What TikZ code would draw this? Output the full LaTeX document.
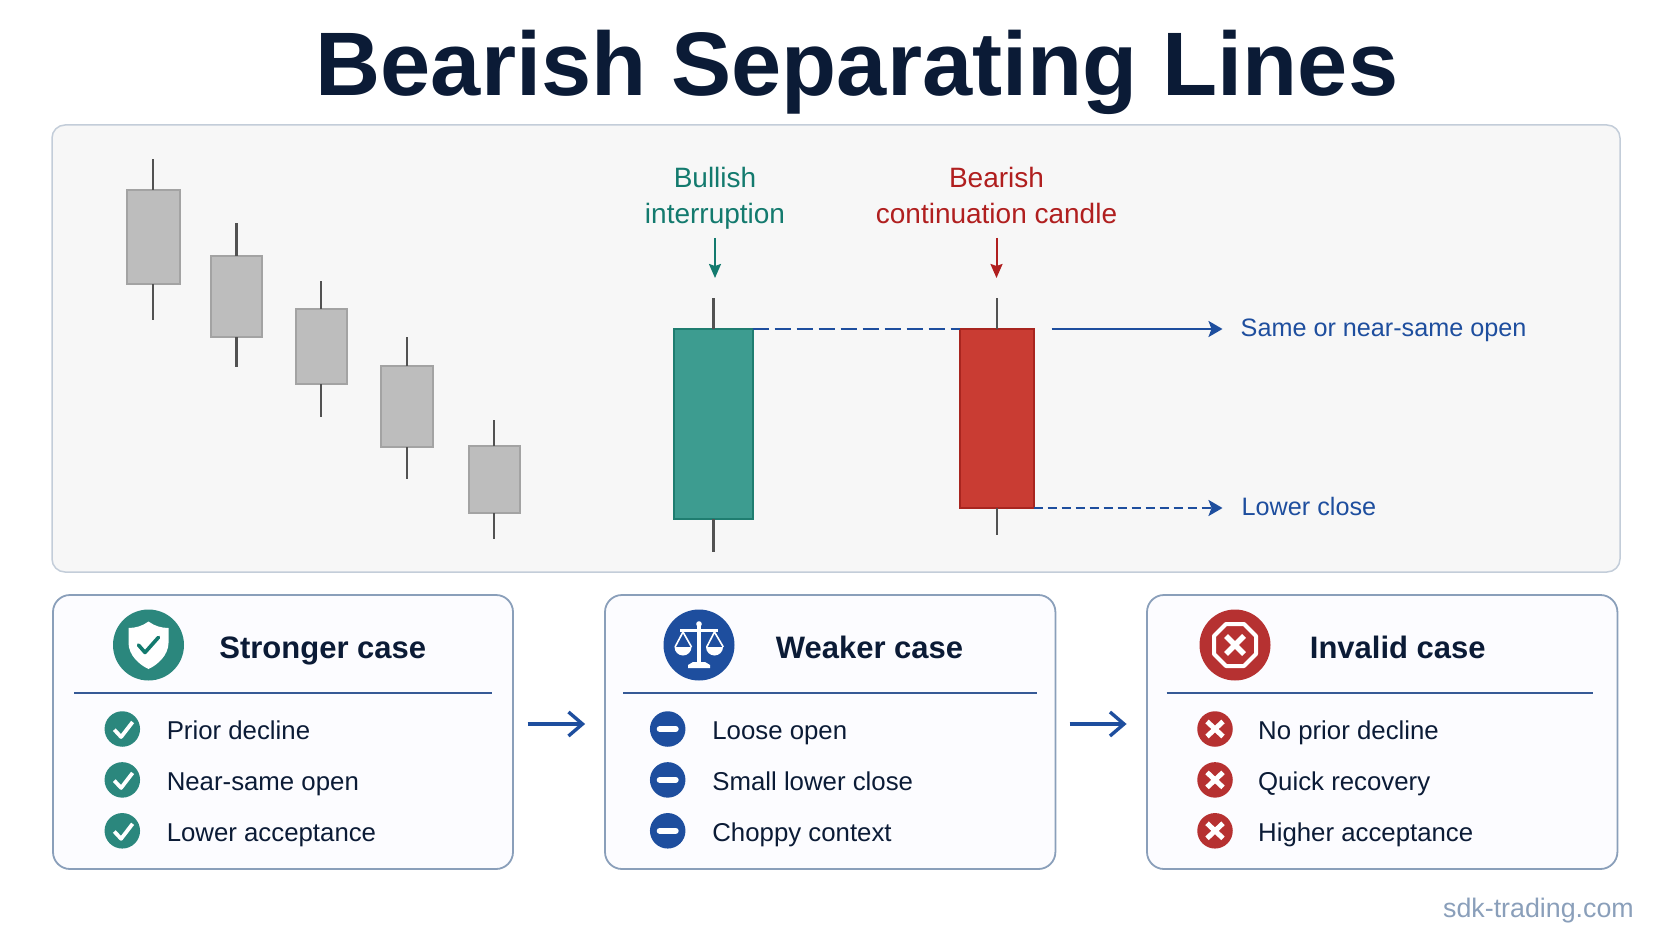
\documentclass[tikz,border=0pt]{standalone}
\usepackage{fontspec}
\setmainfont{Liberation Sans}
\usepackage{xcolor}
\usepackage{tikz}
\usetikzlibrary{shapes,arrows,arrows.meta,positioning,calc}
\definecolor{inkdark}{HTML}{0B1B36}
\definecolor{linkblue}{HTML}{1E4E9E}
\definecolor{bullgreen}{HTML}{137A6E}
\definecolor{bearred}{HTML}{B01F1F}
\definecolor{panelline}{HTML}{C3CDD9}
\definecolor{cardline}{HTML}{8A9FBA}
\definecolor{greenedge}{HTML}{1F7D70}
\definecolor{greenfill}{HTML}{3D9C90}
\definecolor{rededge}{HTML}{A8251F}
\definecolor{redfill}{HTML}{C93C33}
\tikzstyle{panel} = [draw=panelline, line width=1.5pt, fill=black!3, rounded corners=13pt, inner sep=0pt]
\tikzstyle{card} = [draw=cardline, line width=1.8pt, fill=blue!1, rounded corners=17pt, inner sep=0pt,
    minimum height=274pt]
\tikzstyle{rule} = [draw=linkblue!75!gray, line width=1.8pt]
\tikzstyle{graybody} = [draw=black!36, line width=2pt, fill=black!26, inner sep=0pt, outer sep=0pt]
\tikzstyle{greenbody} = [draw=greenedge, line width=2pt, fill=greenfill, inner sep=0pt, outer sep=0pt]
\tikzstyle{redbody} = [draw=rededge, line width=2pt, fill=redfill, inner sep=0pt, outer sep=0pt]
\tikzstyle{wick} = [draw=black!68, line width=2.4pt]
\tikzstyle{uplabel} = [align=center, inner sep=0pt, font=\fontsize{28}{36}\selectfont]
\tikzstyle{sidelabel} = [text=linkblue, anchor=west, inner sep=0pt, text height=19pt, text depth=5pt,
    font=\fontsize{25.2}{30}\selectfont]
\tikzstyle{cardtitle} = [text=inkdark, inner sep=0pt, text height=30pt, text depth=4pt,
    font=\fontsize{31}{36}\bfseries\selectfont]
\tikzstyle{itemtext} = [text=inkdark, inner sep=0pt, text height=25pt, text depth=4pt,
    font=\fontsize{25.8}{32}\selectfont]
\tikzstyle{connector} = [-{Straight Barb[length=14pt,width=24pt,line width=3.4pt]}, draw=linkblue, line width=3.4pt]
\tikzstyle{note} = [-{Stealth[length=14pt,width=16pt,inset=3pt]}, draw=linkblue, line width=2.4pt]
\tikzstyle{pointer} = [-{Stealth[length=14pt,width=12pt,inset=2pt]}, line width=2pt, shorten <=8pt]
\tikzstyle{bigicon} = [circle, inner sep=0pt, minimum size=71pt]
\tikzstyle{smallicon} = [circle, inner sep=0pt, minimum size=35.5pt]
\tikzstyle{shieldicon} = [bigicon, fill=bullgreen!90!white, path picture={
    \begin{scope}[shift={(path picture bounding box.center)}]
      \fill[white] (0,-23.5) .. controls (-6,-19) and (-13,-17) .. (-20,-17) -- (-20,-2)
        .. controls (-20,10) and (-9,20) .. (0,24) .. controls (9,20) and (20,10) .. (20,-2)
        -- (20,-17) .. controls (13,-17) and (6,-19) .. (0,-23.5) -- cycle;
      \draw[bullgreen, line width=3.6pt, line cap=round, line join=round] (-10,0) -- (-3.5,7.5) -- (10,-7.7);
    \end{scope}}]
\tikzstyle{scaleicon} = [bigicon, fill=linkblue, path picture={
    \begin{scope}[shift={(path picture bounding box.center)}]
      \fill[white] (-1.8,-21) rectangle (1.8,18);
      \fill[white] (0,-21) circle (2.8);
      \fill[white] (-19,-16.5) rectangle (19,-13.5);
      \fill[white] (-6,17) -- (6,17) -- (11,20) -- (11,23) -- (-11,23) -- (-11,20) -- cycle;
      \draw[white, line width=1.6pt] (-24,2) -- (-16,-13) -- (-7.5,2);
      \draw[white, line width=1.6pt] (24.3,2) -- (15.5,-13) -- (7.7,2);
      \fill[white] (-24.5,2) arc[start angle=180, end angle=360, x radius=8.5, y radius=-8.5] -- cycle;
      \fill[white] (7,2) arc[start angle=180, end angle=360, x radius=8.5, y radius=-8.5] -- cycle;
    \end{scope}}]
\tikzstyle{stopicon} = [bigicon, fill=bearred!92!white, path picture={
    \begin{scope}[shift={(path picture bounding box.center)}]
      \draw[white, line width=4pt, line join=round] (-9,-21) -- (9,-21) -- (21,-9) -- (21,9) -- (9,21)
        -- (-9,21) -- (-21,9) -- (-21,-9) -- cycle;
      \draw[white, line width=5.5pt] (-9,-9) -- (9,9) (-9,9) -- (9,-9);
    \end{scope}}]
\tikzstyle{okmark} = [smallicon, fill=bullgreen!90!white, path picture={
    \draw[white, line width=3.8pt, line join=round, shift={(path picture bounding box.center)}]
      (-8,0.7) -- (-1.2,8) -- (10.3,-7);}]
\tikzstyle{weakmark} = [smallicon, fill=linkblue, path picture={
    \draw[white, line width=6pt, line cap=round, shift={(path picture bounding box.center)}]
      (-8,0) -- (8,0);}]
\tikzstyle{badmark} = [smallicon, fill=bearred!92!white, path picture={
    \draw[white, line width=5pt, shift={(path picture bounding box.center)}]
      (-8,-7.5) -- (8,7.5) (-8,7.5) -- (8,-7.5);}]

\begin{document}
\begin{tikzpicture}[x=1pt, y=-1pt]
	\useasboundingbox (0,0) rectangle (1672,941);

	\node[text=inkdark, inner sep=0pt, anchor=base, font=\fontsize{90.2}{100}\bfseries\selectfont] (title) at (857,96) {Bearish Separating Lines};
	\node[panel, minimum width=1568pt, minimum height=447pt] (chart) at (836,348.5) {};

	% falling candles
	\node[graybody, minimum width=52.5pt, minimum height=94pt] (c1) at (153.25,237) {};
	\node[graybody, minimum width=51pt, minimum height=81pt] (c2) at (236.5,296.5) {};
	\node[graybody, minimum width=50.5pt, minimum height=75pt] (c3) at (321.25,346.5) {};
	\node[graybody, minimum width=52pt, minimum height=81pt] (c4) at (407,406.5) {};
	\node[graybody, minimum width=50.5pt, minimum height=67pt] (c5) at (494.25,479.5) {};
	\node[coordinate, above=31pt of c1] (c1 high) {};
	\node[coordinate, below=36pt of c1] (c1 low) {};
	\node[coordinate, above=33pt of c2] (c2 high) {};
	\node[coordinate, below=30pt of c2] (c2 low) {};
	\node[coordinate, above=28pt of c3] (c3 high) {};
	\node[coordinate, below=33pt of c3] (c3 low) {};
	\node[coordinate, above=29pt of c4] (c4 high) {};
	\node[coordinate, below=32pt of c4] (c4 low) {};
	\node[coordinate, above=26pt of c5] (c5 high) {};
	\node[coordinate, below=26pt of c5] (c5 low) {};
	\draw[wick] (c1) to (c1 high) (c1) to (c1 low);
	\draw[wick] (c2) to (c2 high) (c2) to (c2 low);
	\draw[wick] (c3) to (c3 high) (c3) to (c3 low);
	\draw[wick] (c4) to (c4 high) (c4) to (c4 low);
	\draw[wick] (c5) to (c5 high) (c5) to (c5 low);

	% the two candles of the pattern
	\node[greenbody, minimum width=78.6pt, minimum height=190pt] (bull) at (713.3,424) {};
	\node[redbody, minimum width=73.6pt, minimum height=179pt] (bear) at (996.8,418.5) {};
	\node[coordinate, above=31pt of bull] (bull high) {};
	\node[coordinate, below=33pt of bull] (bull low) {};
	\node[coordinate, above=31pt of bear] (bear high) {};
	\node[coordinate, below=27pt of bear] (bear low) {};
	\draw[wick] (bull) to (bull high) (bull) to (bull low);
	\draw[wick] (bear) to (bear high) (bear) to (bear low);

	\node[coordinate] (bull tip) at (715,278) {};
	\node[coordinate] (bear tip) at (996.5,278) {};
	\node[uplabel, text=bullgreen, above=48pt of bull tip] (bull label) {Bullish\\interruption};
	\node[uplabel, text=bearred, above=48pt of bear tip] (bear label) {Bearish\\continuation candle\vphantom{p}};
	\draw[pointer, draw=bullgreen] (bull label) to (bull tip);
	\draw[pointer, draw=bearred] (bear label) to (bear tip);

	\node[sidelabel] (same open) at (1240.5,329) {Same or near-same open};
	\node[sidelabel] (lower close) at (1241.5,508) {Lower close};
	\draw[draw=linkblue, line width=2.6pt, dash pattern=on 16pt off 6pt] (bull.north east) to (bear.north west);
	\draw[note, shorten <=18pt, shorten >=18pt] (bear.north east) to (same open.west);
	\draw[note, dash pattern=on 9pt off 5pt, shorten >=19pt] (bear.south east) to (lower close.west);

	% stronger case
	\node[card, minimum width=460pt] (strong) at (283,732) {};
	\node[shieldicon] (strong icon) at (148.5,645) {};
	\node[cardtitle, right=35pt of strong icon] (strong title) {Stronger case};
	\draw[rule] (74.4,693) to (492,693);
	\node[okmark] (ok1) at (122.3,729) {};
	\node[okmark, below=15pt of ok1] (ok2) {};
	\node[okmark, below=15pt of ok2] (ok3) {};
	\node[itemtext, right=26.3pt of ok1] (ok1 text) {Prior decline};
	\node[itemtext, right=26.3pt of ok2] (ok2 text) {Near-same open};
	\node[itemtext, right=26.3pt of ok3] (ok3 text) {Lower acceptance};

	% weaker case
	\node[card, minimum width=450.4pt] (weak) at (830.2,732) {};
	\node[scaleicon] (weak icon) at (699,645) {};
	\node[cardtitle, right=41pt of weak icon] (weak title) {Weaker case};
	\draw[rule] (623,693) to (1037,693);
	\node[weakmark] (wk1) at (667.7,729) {};
	\node[weakmark, below=15pt of wk1] (wk2) {};
	\node[weakmark, below=15pt of wk2] (wk3) {};
	\node[itemtext, right=26.5pt of wk1] (wk1 text) {Loose open};
	\node[itemtext, right=26.5pt of wk2] (wk2 text) {Small lower close};
	\node[itemtext, right=26.5pt of wk3] (wk3 text) {Choppy context};

	% invalid case
	\node[card, minimum width=470.4pt] (invalid) at (1382.2,732) {};
	\node[stopicon] (invalid icon) at (1235,645) {};
	\node[cardtitle, right=39pt of invalid icon] (invalid title) {Invalid case};
	\draw[rule] (1166.6,693) to (1593,693);
	\node[badmark] (bad1) at (1215,729) {};
	\node[badmark, below=15pt of bad1] (bad2) {};
	\node[badmark, below=15pt of bad2] (bad3) {};
	\node[itemtext, right=25pt of bad1] (bad1 text) {No prior decline};
	\node[itemtext, right=25pt of bad2] (bad2 text) {Quick recovery};
	\node[itemtext, right=25pt of bad3] (bad3 text) {Higher acceptance};

	\draw[connector, shorten <=13.7pt, shorten >=19pt] ([yshift=8pt]strong.east) to ([yshift=8pt]weak.west);
	\draw[connector, shorten <=13.2pt, shorten >=19.5pt] ([yshift=8pt]weak.east) to ([yshift=8pt]invalid.west);

	\node[text=cardline, inner sep=0pt, anchor=base east, font=\fontsize{26.8}{30}\selectfont] (site) at (1634,917) {sdk-trading.com};
\end{tikzpicture}
\end{document}
